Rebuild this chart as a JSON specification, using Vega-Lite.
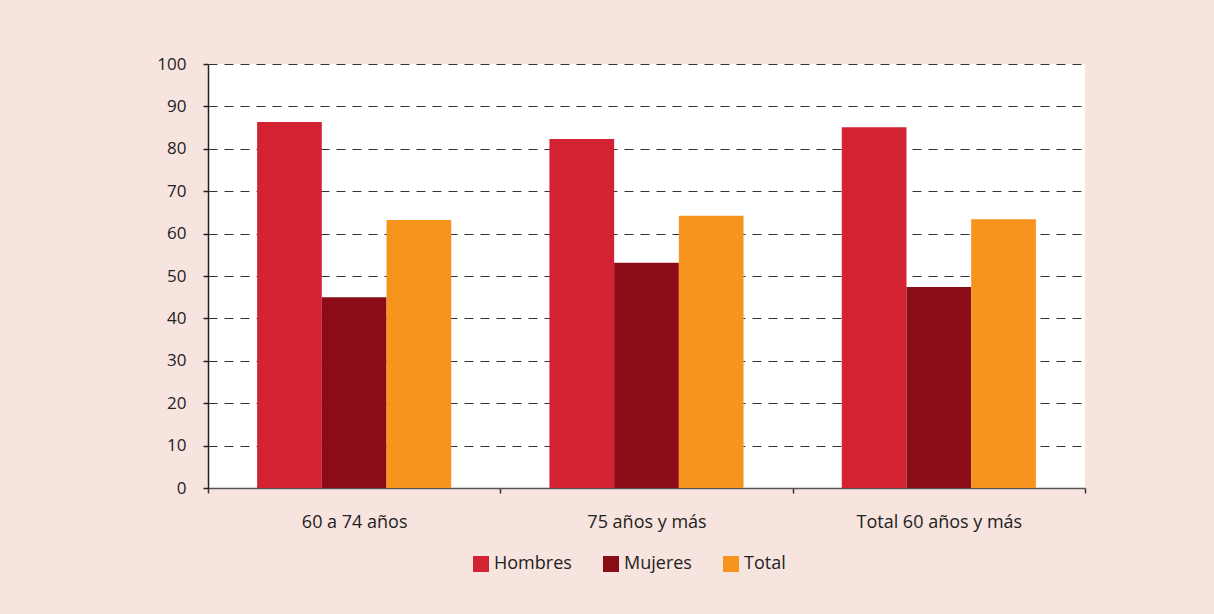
{
  "$schema": "https://vega.github.io/schema/vega-lite/v6.json",
  "width": 877,
  "height": 424,
  "autosize": {"type": "none"},
  "padding": {"left": 208, "top": 64, "right": 129, "bottom": 126},
  "background": "#F7E4DE",
  "config": {"view": {"fill": "white", "stroke": null}, "font": "Open Sans"},
  "data": {
    "values": [
      {"grupo": "60 a 74 años", "sexo": "Hombres", "valor": 86.3},
      {"grupo": "60 a 74 años", "sexo": "Mujeres", "valor": 45.0},
      {"grupo": "60 a 74 años", "sexo": "Total", "valor": 63.2},
      {"grupo": "75 años y más", "sexo": "Hombres", "valor": 82.3},
      {"grupo": "75 años y más", "sexo": "Mujeres", "valor": 53.1},
      {"grupo": "75 años y más", "sexo": "Total", "valor": 64.2},
      {"grupo": "Total 60 años y más", "sexo": "Hombres", "valor": 85.1},
      {"grupo": "Total 60 años y más", "sexo": "Mujeres", "valor": 47.4},
      {"grupo": "Total 60 años y más", "sexo": "Total", "valor": 63.4}
    ]
  },
  "mark": {"type": "bar"},
  "encoding": {
    "x": {
      "field": "grupo",
      "type": "nominal",
      "sort": ["60 a 74 años", "75 años y más", "Total 60 años y más"],
      "scale": {"paddingInner": 0, "paddingOuter": 0},
      "axis": {
        "title": null,
        "labelAngle": 0,
        "tickBand": "extent",
        "domainColor": "#555555",
        "domainWidth": 1.5,
        "tickColor": "#333333",
        "tickWidth": 1.5,
        "tickSize": 5,
        "labelPadding": 20,
        "labelFontSize": 18,
        "labelColor": "#222222",
        "grid": false
      }
    },
    "xOffset": {
      "field": "sexo",
      "sort": ["Hombres", "Mujeres", "Total"],
      "scale": {"paddingInner": 0, "paddingOuter": 0.759}
    },
    "y": {
      "field": "valor",
      "type": "quantitative",
      "scale": {"domain": [0, 100]},
      "axis": {
        "title": null,
        "values": [0, 10, 20, 30, 40, 50, 60, 70, 80, 90, 100],
        "grid": true,
        "gridDash": [9, 7],
        "gridColor": "#333333",
        "gridWidth": 1.2,
        "domainColor": "#222222",
        "domainWidth": 1.5,
        "tickColor": "#222222",
        "tickWidth": 1.5,
        "tickSize": 5,
        "labelPadding": 17,
        "labelFontSize": 17,
        "labelColor": "#222222"
      }
    },
    "color": {
      "field": "sexo",
      "type": "nominal",
      "scale": {
        "domain": ["Hombres", "Mujeres", "Total"],
        "range": ["#D32232", "#8A0C17", "#F7941E"]
      },
      "legend": {
        "title": null,
        "orient": "none",
        "direction": "horizontal",
        "legendX": 264,
        "legendY": 491,
        "symbolType": "square",
        "symbolSize": 256,
        "symbolStrokeWidth": 0,
        "labelFontSize": 18,
        "labelColor": "#222222",
        "labelOffset": 4,
        "columnPadding": 30
      }
    }
  }
}
